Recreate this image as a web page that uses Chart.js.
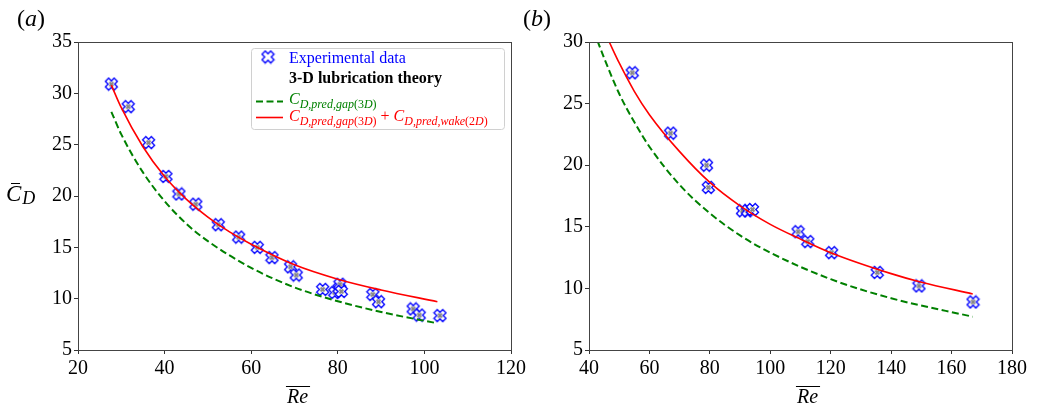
<!DOCTYPE html>
<html>
<head>
<meta charset="utf-8">
<script src="https://cdn.jsdelivr.net/npm/chart.js@4.4.0/dist/chart.umd.min.js"></script>
<style>
    body { margin: 0; background: #ffffff; }
    #wrap { position: relative; width: 1037px; height: 410px; overflow: hidden; }
    canvas { position: absolute; top: 0; }
    #chart-a { left: 0; }
    #chart-b { left: 520px; }
</style>
</head>
<body>
<div id="wrap">
    <canvas id="chart-a" width="540" height="410"></canvas>
    <canvas id="chart-b" width="517" height="410"></canvas>
</div>
<script>
// panel (a): measured drag against mean Reynolds number
const reA_exp = [27.7, 31.6, 36.3, 40.3, 43.3, 47.2, 52.4, 57.1, 61.4, 64.8, 69.1, 70.4,
    76.5, 79.3, 80.3, 80.5, 80.8, 88.1, 89.4, 97.4, 98.8, 103.6];
const cdA_exp = [30.9, 28.7, 25.2, 21.9, 20.2, 19.2, 17.2, 16.0, 15.0, 14.0, 13.1, 12.3,
    10.9, 10.6, 11.0, 11.4, 10.7, 10.4, 9.7, 9.0, 8.4, 8.35];
const reA_gap = [27.7, 30, 35, 40, 45, 50, 60, 70, 80, 90, 103];
const cdA_gap = [28.2, 26.0, 22.3, 19.5, 17.3, 15.6, 13.0, 11.1, 9.75, 8.7, 7.6];
const reA_total = [27.7, 30, 35, 40, 45, 50, 55, 60, 70, 80, 90, 103];
const cdA_total = [30.8, 28.6, 24.8, 21.9, 19.7, 17.95, 16.5, 15.3, 13.3, 11.9, 10.85, 9.7];
const xTicksA = [20, 40, 60, 80, 100, 120];
const yTicksA = [5, 10, 15, 20, 25, 30, 35];

// panel (b)
const reB_exp = [54.3, 67.0, 78.9, 79.5, 90.8, 92.5, 94.1, 109.2, 112.4, 120.3, 135.4, 149.2, 167.1];
const cdB_exp = [27.5, 22.6, 20.0, 18.2, 16.3, 16.3, 16.4, 14.6, 13.8, 12.9, 11.3, 10.2, 8.9];
const reB_gap = [42.8, 45, 50, 55, 60, 70, 80, 90, 100, 120, 140, 167];
const cdB_gap = [30.1, 28.7, 25.8, 23.5, 21.5, 18.4, 16.1, 14.3, 12.9, 10.75, 9.2, 7.7];
const reB_total = [46.7, 50, 55, 60, 70, 80, 90, 100, 110, 120, 140, 150, 167];
const cdB_total = [30.0, 28.3, 26.0, 24.1, 21.1, 18.6, 16.7, 15.2, 14.0, 12.9, 11.2, 10.5, 9.55];
const xTicksB = [40, 60, 80, 100, 120, 140, 160, 180];
const yTicksB = [5, 10, 15, 20, 25, 30];

const SERIF = "'Liberation Serif', 'DejaVu Serif', serif";
const BLUE = '#0000ff', GREEN = '#008000', RED = '#ff0000';

// filled "X" marker, blue edge
function makeMarker(centre) {
    const c = document.createElement('canvas');
    c.width = 15; c.height = 15;
    const g = c.getContext('2d');
    const L = 6.2, w = 2.3;
    const pts = [[w, L], [w, w], [L, w], [L, -w], [w, -w], [w, -L], [-w, -L], [-w, -w], [-L, -w], [-L, w], [-w, w], [-w, L]];
    const poly = (s) => {
        g.beginPath();
        pts.forEach(([px, py], i) => {
            const rx = (px - py) * Math.SQRT1_2 * s + 7.5;
            const ry = (px + py) * Math.SQRT1_2 * s + 7.5;
            i ? g.lineTo(rx, ry) : g.moveTo(rx, ry);
        });
        g.closePath();
    };
    poly(1);
    g.fillStyle = '#ffffff';
    g.fill();
    if (centre) {
        poly(0.45);
        g.fillStyle = '#888888';
        g.fill();
    }
    poly(1);
    g.strokeStyle = BLUE;
    g.lineWidth = 1.3;
    g.stroke();
    return c;
}
const markerImg = makeMarker(true);
const legendImg = makeMarker(false);

const xy = (xs, ys) => xs.map((x, i) => ({x: x, y: ys[i]}));

// draws a row of text pieces, each with its own font, colour and vertical shift
function drawRuns(ctx, x, y, runs, color) {
    ctx.textBaseline = 'alphabetic';
    ctx.textAlign = 'left';
    runs.forEach(r => {
        ctx.font = r.f;
        ctx.fillStyle = r.c || color;
        ctx.fillText(r.t, x, y + (r.dy || 0));
        x += ctx.measureText(r.t).width;
    });
    return x;
}

function subRuns(inner, digit) {
    const sf = 'italic 12px ' + SERIF, su = '12px ' + SERIF;
    return [
        {t: inner, f: sf, dy: 4},
        {t: '(' + digit, f: su, dy: 4},
        {t: 'D', f: sf, dy: 4},
        {t: ')', f: su, dy: 4}
    ];
}

const decor = {
    id: 'decor',
    afterDraw(chart, args, opts) {
        const ctx = chart.ctx;
        const a = chart.chartArea;
        ctx.save();
        // frame
        ctx.strokeStyle = '#444';
        ctx.lineWidth = 1;
        ctx.strokeRect(Math.round(a.left) + 0.5, Math.round(a.top) + 0.5,
            Math.round(a.right - a.left), Math.round(a.bottom - a.top));

        // panel tag
        const big = '24px ' + SERIF, bigI = 'italic 24px ' + SERIF;
        drawRuns(ctx, opts.tagX, 26, [{t: '(', f: big}, {t: opts.tag, f: bigI}, {t: ')', f: big}], '#000');

        // x title with overline
        ctx.font = 'italic 20px ' + SERIF;
        const tw = ctx.measureText('Re').width;
        const cx = (a.left + a.right) / 2 + opts.reShift;
        drawRuns(ctx, cx - tw / 2, 403, [{t: 'Re', f: 'italic 20px ' + SERIF}], '#000');
        ctx.beginPath();
        ctx.moveTo(cx - tw / 2 - 1, 386.5);
        ctx.lineTo(cx + tw / 2 + 2, 386.5);
        ctx.strokeStyle = '#000';
        ctx.stroke();

        if (opts.yTitle) {
            const endC = drawRuns(ctx, 6, 201, [{t: 'C', f: 'italic 23px ' + SERIF}], '#000');
            ctx.beginPath();
            ctx.moveTo(11, 183.5);
            ctx.lineTo(20, 183.5);
            ctx.stroke();
            drawRuns(ctx, endC + 1, 204, [{t: 'D', f: 'italic 18px ' + SERIF}], '#000');
        }

        if (opts.legend) {
            const bx = 251, by = 48, bw = 253, bh = 81, r = 3;
            ctx.beginPath();
            ctx.roundRect(bx + 0.5, by + 0.5, bw, bh, r);
            ctx.fillStyle = 'rgba(255,255,255,0.85)';
            ctx.fill();
            ctx.strokeStyle = '#d0d0d0';
            ctx.stroke();

            const tx = 289;
            ctx.drawImage(legendImg, 268 - 7.5, 57 - 7.5);
            drawRuns(ctx, tx, 63, [{t: chart.data.datasets[2].label, f: '16px ' + SERIF}], BLUE);
            drawRuns(ctx, tx, 83, [{t: '3-D lubrication theory', f: 'bold 16px ' + SERIF}], '#000');

            ctx.lineWidth = 2;
            ctx.setLineDash([7, 3.5]);
            ctx.strokeStyle = GREEN;
            ctx.beginPath();
            ctx.moveTo(256, 101.5);
            ctx.lineTo(283, 101.5);
            ctx.stroke();
            ctx.setLineDash([]);
            ctx.lineWidth = 1.6;
            ctx.strokeStyle = RED;
            ctx.beginPath();
            ctx.moveTo(256, 117.5);
            ctx.lineTo(283, 117.5);
            ctx.stroke();

            const cI = 'italic 16px ' + SERIF;
            drawRuns(ctx, tx, 104, [{t: 'C', f: cI}].concat(subRuns('D,pred,gap', '3')), GREEN);
            drawRuns(ctx, tx, 121, [{t: 'C', f: cI}].concat(subRuns('D,pred,gap', '3'))
                .concat([{t: ' + ', f: '16px ' + SERIF}, {t: 'C', f: cI}])
                .concat(subRuns('D,pred,wake', '2')), RED);
        }
        ctx.restore();
    }
};

function makeChart(id, p) {
    return new Chart(document.getElementById(id), {
        type: 'scatter',
        data: {
            datasets: [
                {
                    type: 'line', label: 'total', data: xy(p.reTotal, p.cdTotal),
                    borderColor: RED, borderWidth: 1.6, pointRadius: 0,
                    cubicInterpolationMode: 'monotone', order: 0
                },
                {
                    type: 'line', label: 'gap', data: xy(p.reGap, p.cdGap),
                    borderColor: GREEN, borderWidth: 2, borderDash: [7, 3.5], pointRadius: 0,
                    cubicInterpolationMode: 'monotone', order: 1
                },
                {
                    label: 'Experimental data', data: xy(p.reExp, p.cdExp),
                    pointStyle: markerImg, order: 2
                }
            ]
        },
        options: {
            responsive: false,
            animation: false,
            events: [],
            layout: {padding: {left: 0, top: 42, right: p.padRight, bottom: 0}},
            plugins: {
                legend: {display: false},
                tooltip: {enabled: false},
                decor: p.decor
            },
            scales: {
                x: {
                    type: 'linear', min: p.xTicks[0], max: p.xTicks[p.xTicks.length - 1],
                    afterBuildTicks: s => { s.ticks = p.xTicks.map(v => ({value: v})); },
                    afterFit: s => { s.height = 60; s.paddingLeft = 0; s.paddingRight = 0; },
                    grid: {drawOnChartArea: false, drawTicks: true, tickLength: 4, color: '#333'},
                    border: {display: true, color: '#444'},
                    ticks: {font: {family: SERIF, size: 20}, color: '#000', padding: 3, maxRotation: 0}
                },
                y: {
                    type: 'linear', min: p.yTicks[0], max: p.yTicks[p.yTicks.length - 1],
                    afterBuildTicks: s => { s.ticks = p.yTicks.map(v => ({value: v})); },
                    afterFit: s => { s.width = p.yWidth; s.paddingTop = 0; s.paddingBottom = 0; },
                    grid: {drawOnChartArea: false, drawTicks: true, tickLength: 4, color: '#333'},
                    border: {display: true, color: '#444'},
                    ticks: {font: {family: SERIF, size: 20}, color: '#000', padding: 2}
                }
            }
        },
        plugins: [decor]
    });
}

makeChart('chart-a', {
    reExp: reA_exp, cdExp: cdA_exp, reGap: reA_gap, cdGap: cdA_gap,
    reTotal: reA_total, cdTotal: cdA_total, xTicks: xTicksA, yTicks: yTicksA,
    yWidth: 78, padRight: 29,
    decor: {tag: 'a', tagX: 17, reShift: 3, yTitle: true, legend: true}
});
makeChart('chart-b', {
    reExp: reB_exp, cdExp: cdB_exp, reGap: reB_gap, cdGap: cdB_gap,
    reTotal: reB_total, cdTotal: cdB_total, xTicks: xTicksB, yTicks: yTicksB,
    yWidth: 69, padRight: 25,
    decor: {tag: 'b', tagX: 3, reShift: 7, yTitle: false, legend: false}
});
</script>
</body>
</html>
